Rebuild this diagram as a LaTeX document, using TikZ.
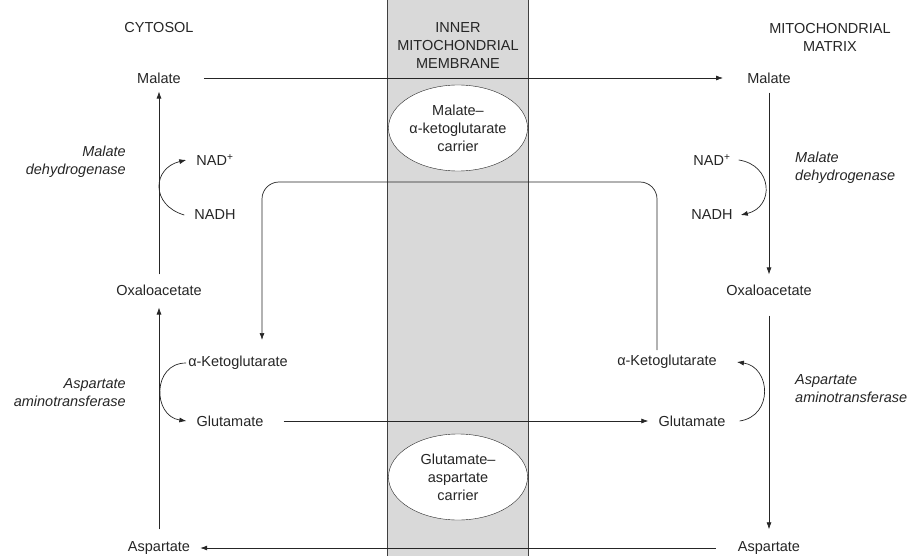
\documentclass[tikz,border=0pt]{standalone}
\usepackage{fontspec}
\setmainfont{Liberation Sans}
\usetikzlibrary{shapes.geometric, arrows.meta}

\begin{document}
\begin{tikzpicture}[x=1pt, y=-1pt, >={Latex[length=7pt, width=5pt]},
        every node/.style={font=\fontsize{14.5}{18}\selectfont, text=black!85, inner sep=0pt},
        enz/.style={font=\fontsize{14.5}{18}\selectfont\itshape},
        carrier/.style={ellipse, draw=black!85, fill=white, minimum width=139pt, minimum height=86pt, align=center},
        flow/.style={->, draw=black!85, line width=0.7pt}]
        % dbg grid
        %\draw[help lines] (0,0) grid[step=50] (920,556);
        \useasboundingbox (0,0) rectangle (920,556);

        % membrana
        \fill[black!15] (387,0) rectangle (528,556);
        \draw[black!75, line width=0.8pt] (387,0) -- (387,556);
        \draw[black!75, line width=0.8pt] (528,0) -- (528,556);

        % titoli
        \node (cyt) at (159,28) {CYTOSOL};
        \node[align=center] (imm) at (458,46) {INNER\\MITOCHONDRIAL\\MEMBRANE};
        \node[align=center] (mat) at (830,37) {MITOCHONDRIAL\\MATRIX};

        % metaboliti citosol
        \node (malL)  at (159,78)  {Malate};
        \node (nadL)  at (215,160) {NAD\textsuperscript{+}};
        \node (nadhL) at (215,215) {NADH};
        \node (oxL)   at (159,290) {Oxaloacetate};
        \node (kgL)   at (238,363) {α-Ketoglutarate};
        \node (gluL)  at (230,421) {Glutamate};
        \node (aspL)  at (159,548) {Aspartate};

        % metaboliti matrice
        \node (malR)  at (769,78)  {Malate};
        \node (nadR)  at (712,160) {NAD\textsuperscript{+}};
        \node (nadhR) at (712,215) {NADH};
        \node (oxR)   at (769,290) {Oxaloacetate};
        \node (kgR)   at (667,362) {α-Ketoglutarate};
        \node (gluR)  at (692,421) {Glutamate};
        \node (aspR)  at (769,548) {Aspartate};

        % enzimi
        \node[enz, anchor=east, align=right] (mdhL) at (126,162) {Malate\\dehydrogenase};
        \node[enz, anchor=west, align=left]  (mdhR) at (795,168) {Malate\\dehydrogenase};
        \node[enz, anchor=east, align=right] (aatL) at (126,393) {Aspartate\\aminotransferase};
        \node[enz, anchor=west, align=left]  (aatR) at (795,389) {Aspartate\\aminotransferase};

        % trasportatori
        \node[carrier] (mkc) at (458,128) {Malate–\\α-ketoglutarate\\carrier};
        \node[carrier] (gac) at (458,477) {Glutamate–\\aspartate\\carrier};

        % flussi orizzontali
        \draw[flow, shorten <=23pt, shorten >=24pt] (malL.east) -- (malR.west);
        \draw[flow, shorten <=20pt, shorten >=10pt] (gluL.east) -- (gluR.west);
        \draw[flow, shorten <=22pt, shorten >=10pt] (aspR.west) -- (aspL.east);

        % flussi verticali
        \draw[flow, shorten <=10pt, shorten >=8pt]  (oxL.north)  -- (malL.south);
        \draw[flow, shorten <=12pt, shorten >=12pt] (aspL.north) -- (oxL.south);
        \draw[flow, shorten <=9pt, shorten >=10pt]  (malR.south) -- (oxR.north);
        \draw[flow, shorten <=20pt, shorten >=12pt] (oxR.south)  -- (aspR.north);

        % cofattori
        \draw[flow] ([xshift=-10pt]nadhL.west) .. controls +(-34,-10) and +(-34,8) .. ([xshift=-10pt]nadL.west);
        \draw[flow] ([xshift=8pt]nadR.east) .. controls +(34,5) and +(34,-8) .. ([xshift=8pt]nadhR.east);
        \draw[flow] ([xshift=-2pt]kgL.west) .. controls +(-34,0) and +(-34,-5) .. ([xshift=-10pt]gluL.west);
        \draw[flow] ([xshift=14pt]gluR.east) .. controls +(34,-5) and +(34,5) .. ([xshift=20pt]kgR.east);

        % alfa-chetoglutarato
        \coordinate (brR)   at (657,350);
        \coordinate (brTop) at (460,182);
        \coordinate (brL)   at (262,340);
        \draw[flow, rounded corners=17pt] (brR) |- (brTop) -| (brL);
\end{tikzpicture}
\end{document}
